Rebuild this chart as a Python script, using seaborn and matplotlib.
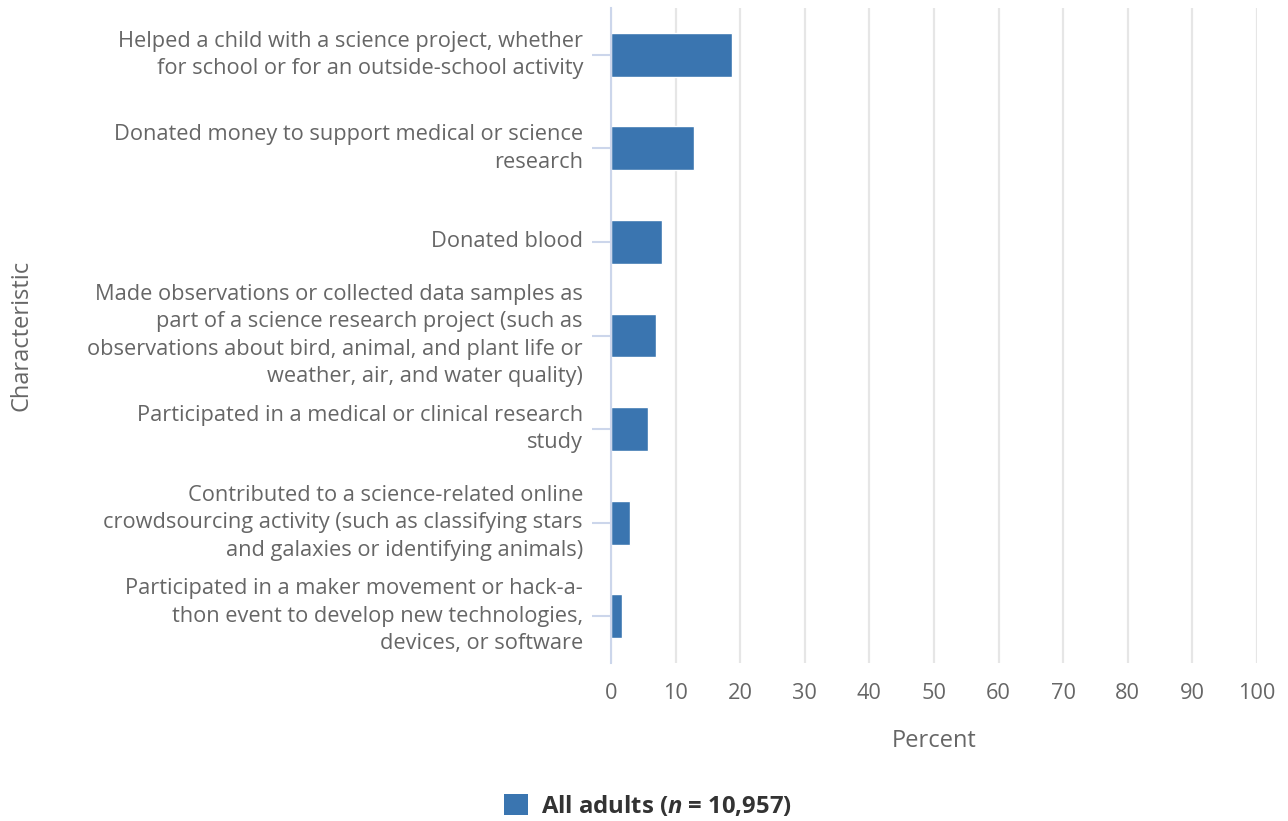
import matplotlib
matplotlib.use("Agg")
import matplotlib.pyplot as plt
import matplotlib.patches as mpatches
import pandas as pd
import seaborn as sns

# ── Data ──────────────────────────────────────────────────────────────────────

categories = [
    "Helped a child with a science project, whether\nfor school or for an outside-school activity",
    "Donated money to support medical or science\nresearch",
    "Donated blood",
    "Made observations or collected data samples as\npart of a science research project (such as\nobservations about bird, animal, and plant life or\nweather, air, and water quality)",
    "Participated in a medical or clinical research\nstudy",
    "Contributed to a science-related online\ncrowdsourcing activity (such as classifying stars\nand galaxies or identifying animals)",
    "Participated in a maker movement or hack-a-\nthon event to develop new technologies,\ndevices, or software",
]
percent = [18.7, 12.8, 7.9, 7.0, 5.7, 2.9, 1.7]
x_ticks = [0, 10, 20, 30, 40, 50, 60, 70, 80, 90, 100]
series_label = "All adults ($\\it{n}$ = 10,957)"

BAR = "#3a75b0"
TEXT = "#666666"
AXIS = "#ccd6eb"
GRID = "#e6e6e6"

sns.set_theme(style="white")
plt.rcParams["font.family"] = ["Open Sans", "DejaVu Sans"]
plt.rcParams["mathtext.fontset"] = "custom"
plt.rcParams["mathtext.it"] = "Open Sans:italic:bold"
plt.rcParams["mathtext.rm"] = "Open Sans:bold"

df = pd.DataFrame({"Characteristic": categories, "Percent": percent})

fig = plt.figure(figsize=(12.88, 8.21), dpi=100)
ax = fig.add_axes([611 / 1288, 1 - 663 / 821, (1257 - 611) / 1288, (663 - 8) / 821])

sns.barplot(data=df, x="Percent", y="Characteristic", color=BAR, width=0.47,
            saturation=1, ax=ax, zorder=3)

ax.set_xlim(0, 100)
ax.set_ylim(6.5, -0.5)
ax.set_xticks(x_ticks)
ax.set_xticklabels([str(t) for t in x_ticks])
ax.grid(axis="x", color=GRID, linewidth=1.6, zorder=0)
ax.grid(axis="y", visible=False)

for side in ["top", "right", "bottom"]:
    ax.spines[side].set_visible(False)
ax.spines["left"].set_color(AXIS)
ax.spines["left"].set_linewidth(1.5)
ax.spines["left"].set_zorder(4)

# tick length / pad are in points (dpi 100 -> px * 0.72)
ax.tick_params(axis="y", length=13.7, width=1.5, color=AXIS, pad=6.5,
               labelsize=15.7, labelcolor=TEXT, left=True)
ax.tick_params(axis="x", length=0, pad=14.5, labelsize=15.7, labelcolor=TEXT)
for lbl in ax.get_yticklabels():
    lbl.set_linespacing(1.4)
    lbl.set_horizontalalignment("right")
    lbl.set_verticalalignment("center")

ax.set_xlabel("Percent", fontsize=17, color=TEXT, labelpad=18)
ax.set_ylabel("")
fig.text(22 / 1288, 1 - 335 / 821, "Characteristic", rotation=90, fontsize=17,
         color=TEXT, ha="center", va="center")

handle = mpatches.Patch(facecolor=BAR, edgecolor="none")
fig.legend([handle], [series_label], loc="center", bbox_to_anchor=(648 / 1288, 1 - 806 / 821),
           frameon=False, handlelength=1.0, handleheight=1.0, handletextpad=0.55,
           prop={"size": 17.2, "weight": "bold"}, labelcolor="#333333")

fig.savefig("out.png", dpi=100)
